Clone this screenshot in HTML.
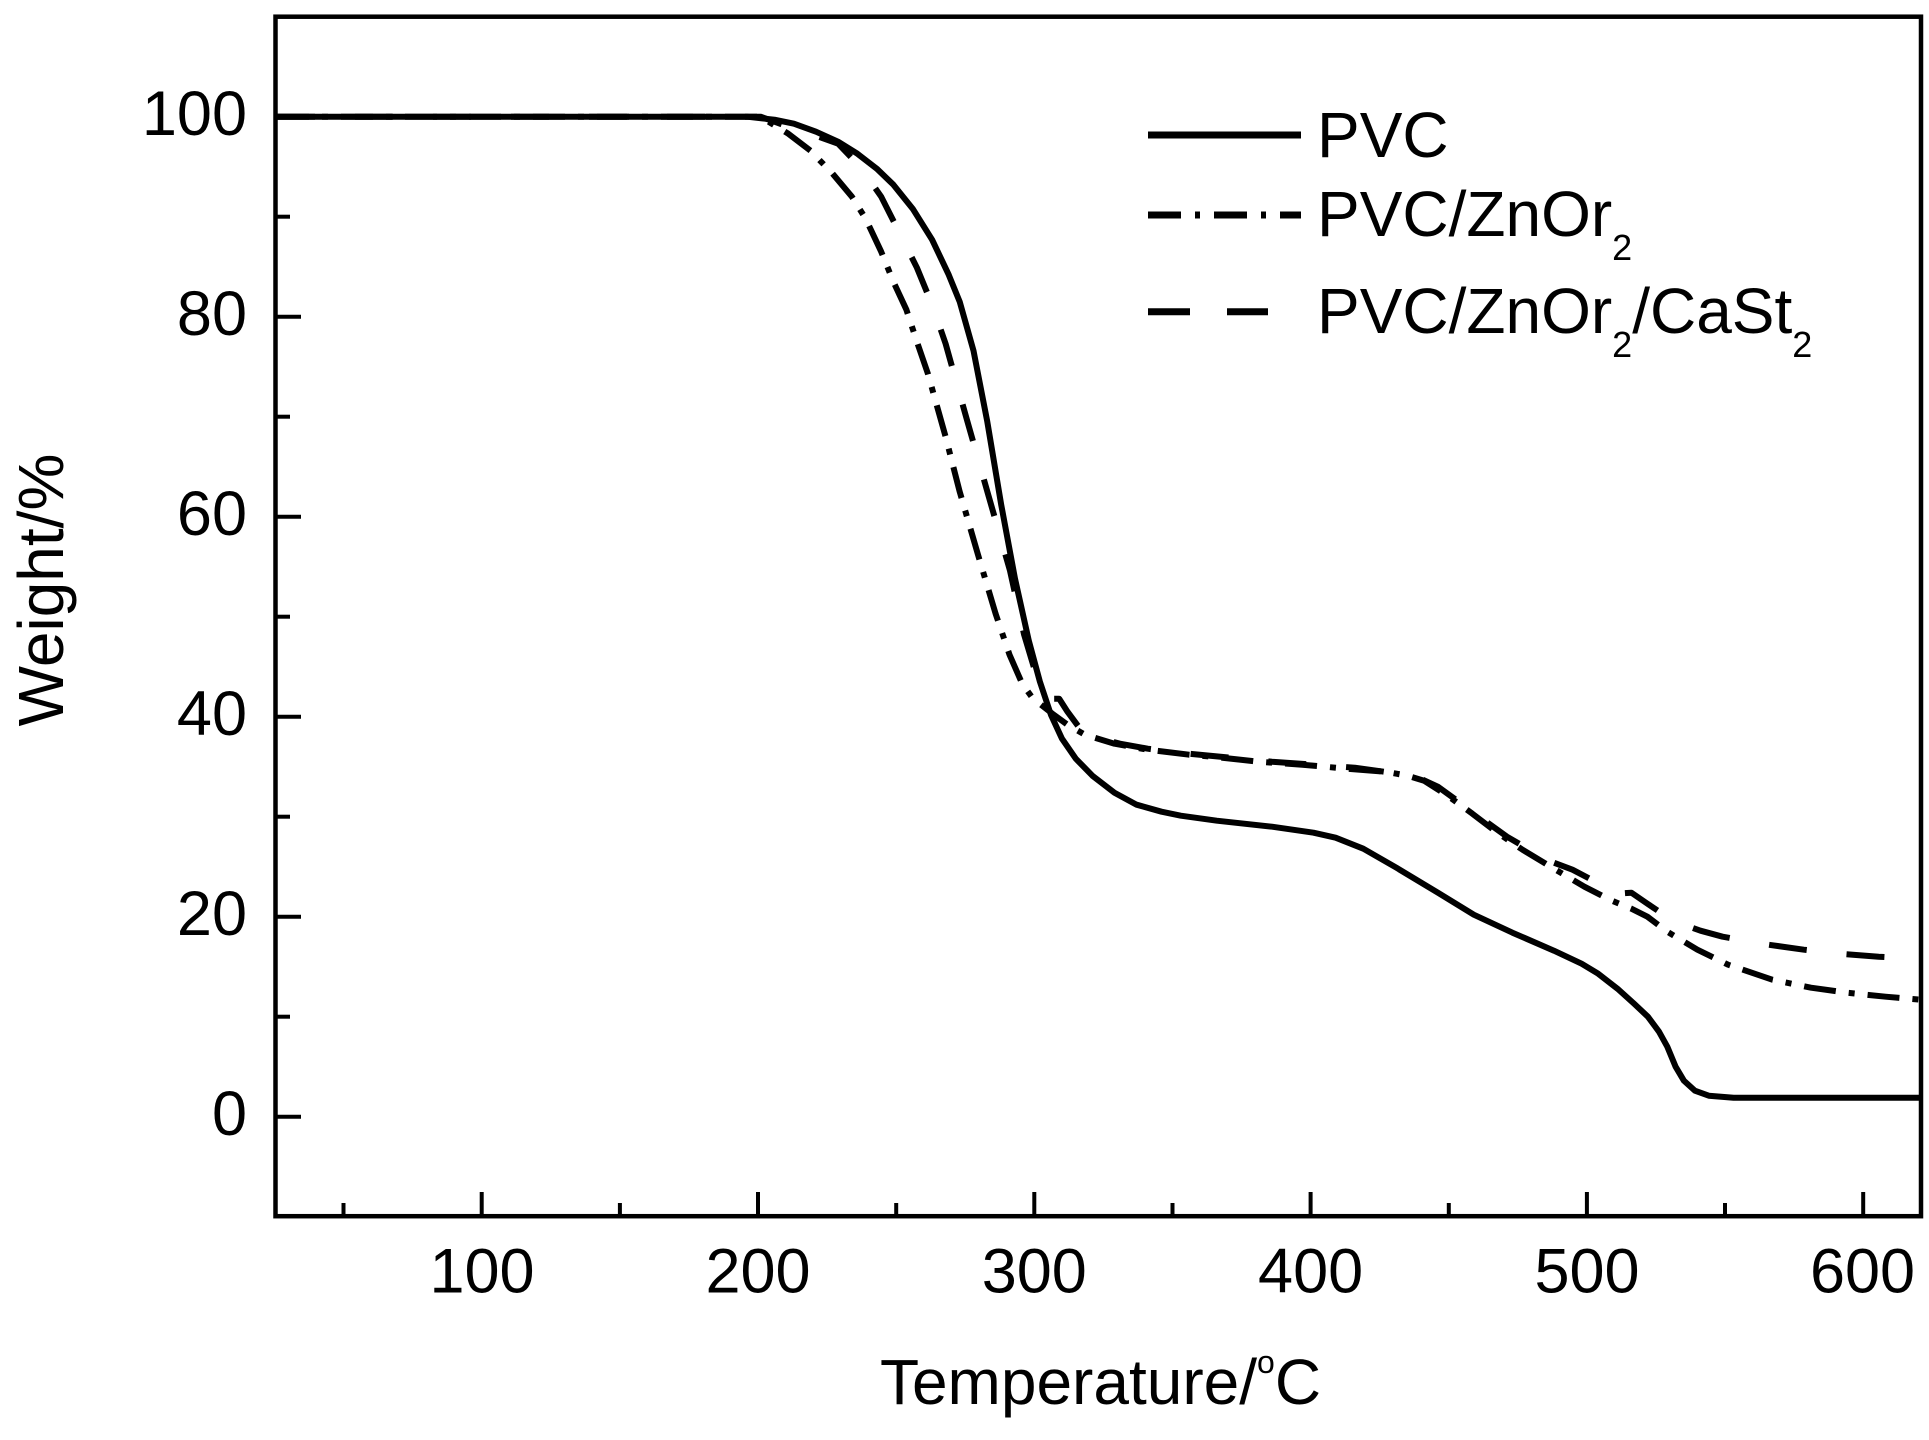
<!DOCTYPE html>
<html>
<head>
<meta charset="utf-8">
<style>
  html, body { margin: 0; padding: 0; background: #ffffff; }
  svg { display: block; }
  text { font-family: "Liberation Sans", Arial, sans-serif; fill: #000; }
</style>
</head>
<body>
<svg width="1929" height="1440" viewBox="0 0 1929 1440" xmlns="http://www.w3.org/2000/svg">
  <rect x="0" y="0" width="1929" height="1440" fill="#ffffff"/>

  <!-- curves -->
  <g fill="none" stroke="#000" stroke-width="6" stroke-linejoin="round">
    <!-- PVC solid -->
    <polyline points="277,116.7 746.9,116.7 774.5,119.7 793.9,123.7 816,131.7 838.1,141.7 857.4,153.7 876.8,168.7 893.4,184.7 912.7,208.7 932.1,239.7 948.7,274.7 959.7,301.7 973.5,350.7 987.3,421.7 1001.2,504.7 1015,578.7 1028.8,640.7 1039.9,681.7 1050.9,714.7 1062,738.7 1075.8,758.7 1092.4,775.7 1114.5,792.7 1136.6,804.7 1161.5,811.7 1180.8,815.7 1216.8,820.7 1272,826.7 1313.5,832.7 1335.6,837.7 1363.3,848.7 1396.4,867.7 1437.9,892.7 1473.8,914.7 1512.5,932.7 1554,950.7 1581.6,963.7 1598.2,973.7 1617.5,988.7 1634.1,1003.7 1647.9,1016.7 1659,1031.7 1667.3,1046.7 1675.6,1066.7 1683.9,1080.7 1694.9,1090.7 1708.8,1095.7 1733.6,1097.7 1921,1097.7"/>
    <!-- PVC/ZnOr2 dash-dot -->
    <polyline stroke-dasharray="32 13 6 13" points="277,116.7 760.7,116.7 771.8,123.7 788.3,133.7 810.5,150.7 832.6,173.7 851.9,196.7 865.7,218.7 881.2,251.7 893.4,281.7 906.4,309.7 916.9,341.7 927.9,373.7 945.6,436.7 959.7,491.7 978,554.7 995.6,613.7 1009.5,654.7 1022.2,683.7 1031.6,696.7 1041,704.7 1053.7,714.7 1067.5,724.7 1084.9,734.7 1114.5,743.7 1147.7,749.7 1189.1,754.7 1222.3,757.7 1258.2,761.7 1302.4,764.7 1346.7,768.7 1385.4,771.7 1407.5,775.7 1424.1,780.7 1446.2,794.7 1472.4,813.7 1495.9,831.7 1522.5,849.7 1554,868.7 1584.4,886.7 1612,900.7 1631.4,908.7 1647.4,916.7 1667.3,931.7 1697.4,949.7 1728.1,964.7 1772.3,979.7 1811,987.7 1847,992.7 1885.6,996.7 1921,999.7"/>
    <!-- PVC/ZnOr2/CaSt2 dashed -->
    <polyline stroke-dasharray="38 40" points="277,116.7 760.7,116.7 774.5,121.7 793.9,128.7 816,135.7 838.1,143.7 860.2,166.7 881.2,196.7 898.9,231.7 916.9,267.7 932.1,304.7 945.6,343.7 966.9,419.7 988.5,495.7 1010,570.7 1024.1,634.7 1034.3,668.7 1042.1,688.7 1050.9,698.7 1059.2,698.7 1067.5,711.7 1078.6,726.7 1092.4,736.7 1120,743.7 1147.7,748.7 1189.1,753.7 1230.6,757.7 1272,761.7 1313.5,764.7 1354.9,767.7 1390.9,772.7 1418.5,777.7 1437.9,786.7 1465.5,806.7 1507,836.7 1548.4,860.7 1572.5,869.7 1595.4,881.7 1617.5,893.7 1631.4,892.7 1647.4,903.7 1672.8,920.7 1700.5,930.7 1722.6,936.7 1761.3,943.7 1803.8,949.7 1838.7,953.7 1878.7,956.7 1921,958.7"/>
  </g>

  <!-- axes frame -->
  <rect x="275.5" y="16.7" width="1645.5" height="1199.5" fill="none" stroke="#000" stroke-width="4.5"/>

  <!-- y ticks -->
  <g stroke="#000" stroke-width="4">
    <line x1="275.5" y1="116.7" x2="301" y2="116.7"/>
    <line x1="275.5" y1="316.7" x2="301" y2="316.7"/>
    <line x1="275.5" y1="516.7" x2="301" y2="516.7"/>
    <line x1="275.5" y1="716.7" x2="301" y2="716.7"/>
    <line x1="275.5" y1="916.7" x2="301" y2="916.7"/>
    <line x1="275.5" y1="1116.7" x2="301" y2="1116.7"/>
    <line x1="275.5" y1="216.7" x2="290" y2="216.7"/>
    <line x1="275.5" y1="416.7" x2="290" y2="416.7"/>
    <line x1="275.5" y1="616.7" x2="290" y2="616.7"/>
    <line x1="275.5" y1="816.7" x2="290" y2="816.7"/>
    <line x1="275.5" y1="1016.7" x2="290" y2="1016.7"/>
  </g>

  <!-- x ticks -->
  <g stroke="#000" stroke-width="4">
    <line x1="481.7" y1="1216" x2="481.7" y2="1192"/>
    <line x1="758" y1="1216" x2="758" y2="1192"/>
    <line x1="1034.3" y1="1216" x2="1034.3" y2="1192"/>
    <line x1="1310.6" y1="1216" x2="1310.6" y2="1192"/>
    <line x1="1586.9" y1="1216" x2="1586.9" y2="1192"/>
    <line x1="1863.2" y1="1216" x2="1863.2" y2="1192"/>
    <line x1="343.5" y1="1216" x2="343.5" y2="1203"/>
    <line x1="619.9" y1="1216" x2="619.9" y2="1203"/>
    <line x1="896.2" y1="1216" x2="896.2" y2="1203"/>
    <line x1="1172.5" y1="1216" x2="1172.5" y2="1203"/>
    <line x1="1448.8" y1="1216" x2="1448.8" y2="1203"/>
    <line x1="1725" y1="1216" x2="1725" y2="1203"/>
  </g>

  <!-- y tick labels -->
  <g font-size="63" text-anchor="end">
    <text x="247" y="135">100</text>
    <text x="247" y="335">80</text>
    <text x="247" y="535">60</text>
    <text x="247" y="735">40</text>
    <text x="247" y="935">20</text>
    <text x="247" y="1135">0</text>
  </g>

  <!-- x tick labels -->
  <g font-size="63" text-anchor="middle">
    <text x="482" y="1292.5">100</text>
    <text x="758" y="1292.5">200</text>
    <text x="1034.3" y="1292.5">300</text>
    <text x="1310.6" y="1292.5">400</text>
    <text x="1587" y="1292.5">500</text>
    <text x="1862.5" y="1292.5">600</text>
  </g>

  <!-- axis titles -->
  <text x="1100.5" y="1404" font-size="64" text-anchor="middle">Temperature/<tspan font-size="32" dy="-31">o</tspan><tspan dy="31">C</tspan></text>
  <text transform="translate(63,590) rotate(-90)" font-size="64" text-anchor="middle">Weight/%</text>

  <!-- legend -->
  <g fill="none" stroke="#000" stroke-width="7">
    <line x1="1148" y1="135" x2="1301" y2="135"/>
    <line x1="1148" y1="215" x2="1301" y2="215" stroke-dasharray="33 14 5 14"/>
    <line x1="1148" y1="311.7" x2="1268" y2="311.7" stroke-dasharray="42 37"/>
  </g>
  <g font-size="64">
    <text x="1317" y="157">PVC</text>
    <text x="1317" y="236">PVC/ZnOr<tspan font-size="36" dy="24">2</tspan></text>
    <text x="1317" y="333">PVC/ZnOr<tspan font-size="36" dy="24">2</tspan><tspan dy="-24">/CaSt</tspan><tspan font-size="36" dy="24">2</tspan></text>
  </g>
</svg>
</body>
</html>
